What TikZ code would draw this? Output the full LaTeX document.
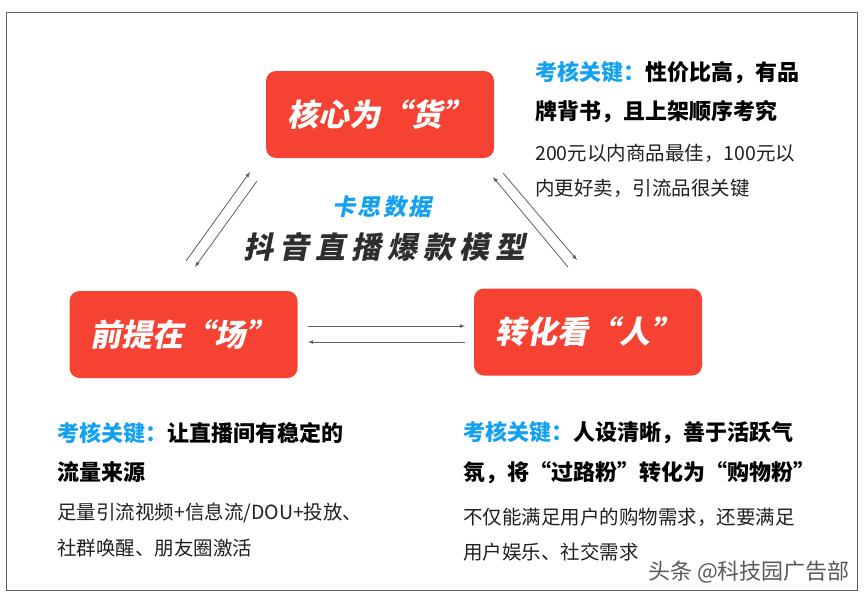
\documentclass[tikz,border=0pt]{standalone}
\usepackage{fontspec}
\setmainfont{Noto Sans CJK SC}
\newfontfamily\slantcjk[FakeSlant=0.2]{Noto Sans CJK SC}
\definecolor{boxred}{RGB}{245,66,51}
\definecolor{keyblue}{RGB}{20,160,240}
\definecolor{arrgray}{RGB}{95,95,95}
\tikzset{
  redbox/.style={fill=boxred, rounded corners=10pt, minimum width=228pt, minimum height=87pt,
    text=white, font=\slantcjk\bfseries\fontsize{31}{31}\selectfont},
  conn/.style={-latex, arrgray, line width=0.8pt},
  keyline/.style={anchor=west, inner sep=0pt, font=\bfseries\fontsize{22}{22}\selectfont},
  noteline/.style={anchor=west, inner sep=0pt, font=\fontsize{19.5}{19.5}\selectfont, text=black!88},
}
\begin{document}
\begin{tikzpicture}[x=1pt,y=-1pt]
        \useasboundingbox (0,0) rectangle (867,600);
        \draw[arrgray, line width=1pt] (6,12) rectangle (857,590);

        % the three boxes
        \node[redbox] (huo) at (380,114.5) {核心为“货”};
        \node[redbox] (chang) at (183.5,334.5) {前提在“场”};
        \node[redbox] (ren) at (588,332) {转化看“人”};

        % title
        \node (brand) at (382,207) [text=keyblue, font=\slantcjk\bfseries\fontsize{23}{23}\selectfont\addfontfeature{LetterSpace=10}]{卡思数据};
        \node (title) at (384,247) [text=black!82, font=\slantcjk\bfseries\fontsize{30}{30}\selectfont\addfontfeature{LetterSpace=20}]{抖音直播爆款模型};

        % arrow ends
        \coordinate (cu1) at (186,261);  \coordinate (hl1) at (250,172);
        \coordinate (hl2) at (257,181);  \coordinate (cu2) at (195,267);
        \coordinate (ru1) at (568,267);  \coordinate (hr1) at (493,177);
        \coordinate (hr2) at (503,173);  \coordinate (ru2) at (577,260);
        \coordinate (cr1) at (308,326);  \coordinate (rc1) at (465,326);
        \coordinate (rc2) at (465,342);  \coordinate (cr2) at (308,342);
        \draw[conn] (cu1) -- (hl1);
        \draw[conn] (hl2) -- (cu2);
        \draw[conn] (ru1) -- (hr1);
        \draw[conn] (hr2) -- (ru2);
        \draw[conn] (cr1) -- (rc1);
        \draw[conn] (rc2) -- (cr2);

        % notes
        \node[keyline] (huok1) at (535,72.5) {\textcolor{keyblue}{考核关键：}性价比高，有品};
        \node[keyline] (huok2) at (535,112) {牌背书，且上架顺序考究};
        \node[noteline] (huon1) at (535,153) {200元以内商品最佳，100元以};
        \node[noteline] (huon2) at (535,188) {内更好卖，引流品很关键};

        \node[keyline] (changk1) at (57,433) {\textcolor{keyblue}{考核关键：}让直播间有稳定的};
        \node[keyline] (changk2) at (57,472) {流量来源};
        \node[noteline] (changn1) at (57,513) {足量引流视频+信息流/DOU+投放、};
        \node[noteline] (changn2) at (57,548) {社群唤醒、朋友圈激活};

        \node[keyline] (renk1) at (463,433) {\textcolor{keyblue}{考核关键：}人设清晰，善于活跃气};
        \node[keyline] (renk2) at (463,473) {氛，将“过路粉”转化为“购物粉”};
        \node[noteline] (renn1) at (463,517) {不仅能满足用户的购物需求，还要满足};
        \node[noteline] (renn2) at (463,552) {用户娱乐、社交需求};

        \node[noteline, text=black!65, font=\fontsize{22}{22}\selectfont] (mark) at (648,572) {头条 @科技园广告部};
    \end{tikzpicture}
\end{document}
